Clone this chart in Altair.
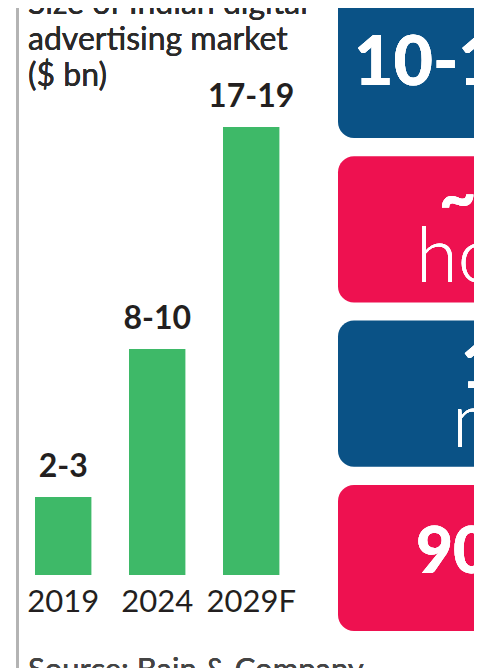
import altair as alt
import pandas as pd

# ---- data ----
years = ["2019", "2024", "2029F"]
range_labels = ["2-3", "8-10", "17-19"]
range_low = [2, 8, 17]
range_high = [3, 10, 19]
BAR_BASE = -1.16  # drawn (not-to-scale) baseline of the bars

title_lines = ["Size of Indian digital", "advertising market", "($ bn)"]
source_text = "Source: Bain & Company"

box_rows = [0, 1, 2, 3]
box_colors = ["#0a5286", "#ee1150", "#0a5286", "#ee1150"]
box_numbers = ["10-12", "~2", "15", "90%"]
box_units = ["", "hours", "mins", ""]

W, H = 466, 660
DARK = "#231f20"
GREEN = "#3eb968"

bars_df = pd.DataFrame({"year": years, "label": range_labels,
                        "low": range_low, "high": range_high})
box_df = pd.DataFrame({"row": box_rows, "color": box_colors})

xband = alt.Scale(type="band", domain=years, range=[27, 271.4],
                  paddingInner=0.4, paddingOuter=0)
yval = alt.Scale(domain=[BAR_BASE, 17], range=[567, 119], zero=False, nice=False)

base = alt.Chart(bars_df)

bars = base.mark_bar(color=GREEN).encode(
    x=alt.X("year:N", scale=xband, axis=None, sort=years),
    y=alt.Y("low:Q", scale=yval, axis=None),
    y2=alt.datum(BAR_BASE),
)

bar_labels = base.mark_text(
    dy=-20, baseline="alphabetic", align="center",
    font="Lato", fontWeight="bold", fontSize=32, color=DARK,
).encode(
    x=alt.X("year:N", scale=xband, axis=None, sort=years),
    y=alt.Y("low:Q", scale=yval, axis=None),
    text="label:N",
)

year_labels = base.mark_text(
    baseline="alphabetic", align="center",
    font="Lato", fontSize=31, color=DARK,
).encode(
    x=alt.X("year:N", scale=xband, axis=None, sort=years),
    y=alt.value(604),
    text="year:N",
)

rule = base.mark_rule(color="#b3b3b3", strokeWidth=2.5).encode(
    x=alt.value(9.5), y=alt.value(-10), y2=alt.value(H + 10)
)

title = base.mark_text(
    align="left", baseline="alphabetic", lineHeight=36,
    font="Lato", fontSize=32, color="#2a2a2a",
).encode(x=alt.value(20), y=alt.value(6), text=alt.value(title_lines))

source = base.mark_text(
    align="left", baseline="alphabetic",
    font="Lato", fontSize=31, color="#444444",
).encode(x=alt.value(20), y=alt.value(672), text=alt.value(source_text))

boxes = alt.Chart(box_df).mark_rect(cornerRadius=16).encode(
    y=alt.Y("row:O", axis=None,
            scale=alt.Scale(domain=box_rows, range=[-16, 623],
                            paddingInner=0.111, paddingOuter=0)),
    x=alt.value(330), x2=alt.value(560),
    color=alt.Color("color:N", scale=None, legend=None),
)

def box_text(txt, x, y, size, weight):
    return base.mark_text(
        align="left", baseline="alphabetic", font="Lato",
        fontSize=size, fontWeight=weight, color="white",
    ).encode(x=alt.value(x), y=alt.value(y), text=alt.value(txt))

box_texts = [
    box_text(box_numbers[0], 346, 77, 68, 900),
    box_text(box_numbers[1], 431, 212, 64, 900),
    box_text(box_units[1], 408, 274, 76, 300),
    box_text(box_numbers[2], 453, 380, 64, 900),
    box_text(box_units[2], 444, 439, 76, 300),
    box_text(box_numbers[3], 408, 565, 64, 900),
]

chart = alt.layer(
    rule, title, bars, bar_labels, year_labels, source, boxes, *box_texts
).resolve_scale(x="independent", y="independent").properties(
    width=W, height=H,
    autosize=alt.AutoSizeParams(type="none"),
    padding=0,
).configure_view(stroke=None)

chart.save("out.html", embed_options={"renderer": "svg", "actions": False})
